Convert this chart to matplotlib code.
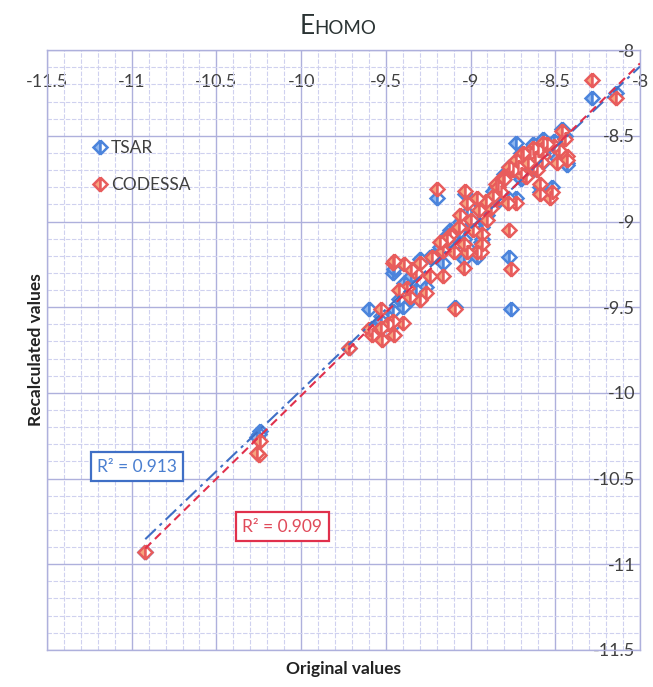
import numpy as np
import matplotlib
matplotlib.use("Agg")
import matplotlib.pyplot as plt
from matplotlib.ticker import MultipleLocator

# Original E_HOMO values and the values recalculated by each model
original = [
    -10.92, -10.24, -10.25, -10.26, -9.72, -9.60, -9.58, -9.53, -9.52, -9.53,
    -9.49, -9.46, -9.45, -9.40, -9.46, -9.45, -9.39, -9.375, -9.36, -9.32,
    -9.30, -9.30, -9.26, -9.24, -9.23, -9.20, -9.16, -9.16, -9.12, -9.10,
    -9.09, -9.07, -9.04, -9.04, -9.03, -9.02, -9.02, -9.00, -8.985, -8.96,
    -8.96, -8.94, -8.93, -8.93, -8.90, -8.88, -8.85, -8.84, -8.84, -8.82,
    -8.81, -8.80, -8.78, -8.77, -8.76, -8.77, -8.75, -8.73, -8.73, -8.72,
    -8.70, -8.69, -8.67, -8.65, -8.63, -8.63, -8.62, -8.60, -8.59, -8.59,
    -8.57, -8.57, -8.55, -8.53, -8.52, -8.49, -8.46, -8.44, -8.43, -8.43,
    -8.285, -8.14, -9.14, -9.18, -9.35, -9.42, -8.87, -8.91, -8.95, -9.06,
    -8.70, -8.66, -8.61, -8.58, -8.51, -8.48,
]
tsar = [
    -10.93, -10.22, -10.24, -10.26, -9.74, -9.51, -9.62, -9.55, -9.60, -9.58,
    -9.56, -9.52, -9.60, -9.50, -9.30, -9.28, -9.36, -9.38, -9.46, -9.40,
    -9.44, -9.22, -9.38, -9.21, -9.20, -8.86, -9.24, -9.12, -9.05, -9.14,
    -9.50, -9.06, -9.10, -9.22, -8.84, -8.95, -9.15, -8.97, -9.02, -9.21,
    -8.88, -9.12, -9.03, -9.10, -8.96, -8.90, -8.80, -8.82, -8.88, -8.85,
    -8.76, -8.72, -8.86, -8.68, -9.51, -9.21, -8.68, -8.54, -8.86, -8.66,
    -8.60, -8.62, -8.72, -8.58, -8.55, -8.70, -8.61, -8.57, -8.80, -8.83,
    -8.52, -8.60, -8.56, -8.84, -8.80, -8.63, -8.46, -8.50, -8.66, -8.67,
    -8.28, -8.25, -9.08, -9.15, -9.32, -9.45, -8.82, -8.93, -8.97, -9.00,
    -8.75, -8.64, -8.67, -8.66, -8.53, -8.55,
]
codessa = [
    -10.93, -10.28, -10.36, -10.35, -9.74, -9.63, -9.66, -9.51, -9.69, -9.62,
    -9.60, -9.58, -9.66, -9.59, -9.24, -9.23, -9.25, -9.39, -9.44, -9.30,
    -9.46, -9.24, -9.42, -9.32, -9.21, -8.81, -9.32, -9.17, -9.08, -9.18,
    -9.51, -9.03, -9.13, -9.27, -8.82, -8.89, -9.18, -8.99, -9.05, -9.18,
    -8.86, -9.18, -9.07, -9.13, -8.99, -8.92, -8.78, -8.80, -8.86, -8.83,
    -8.74, -8.75, -8.89, -8.68, -9.28, -9.05, -8.70, -8.64, -8.89, -8.68,
    -8.62, -8.60, -8.74, -8.60, -8.57, -8.68, -8.63, -8.58, -8.78, -8.84,
    -8.54, -8.62, -8.55, -8.86, -8.83, -8.66, -8.47, -8.52, -8.62, -8.64,
    -8.175, -8.28, -9.10, -9.12, -9.28, -9.40, -8.85, -8.88, -8.93, -8.96,
    -8.72, -8.66, -8.70, -8.65, -8.56, -8.58,
]
series_names = ["TSAR", "CODESSA"]
r2_labels = ["R\u00b2 = 0.913", "R\u00b2 = 0.909"]
axis_ticks = [-11.5, -11, -10.5, -10, -9.5, -9, -8.5, -8]

blue_edge, blue_face = "#4b84dc", "#8fb6ee"
red_edge, red_face = "#e85c5c", "#f6a47e"
text_col = "#404040"
grid_major = "#aeb0dc"
grid_minor = "#cfd1ef"

plt.rcParams["font.family"] = ["Lato", "DejaVu Sans"]

fig = plt.figure(figsize=(6.53, 6.87), dpi=100)
ax = fig.add_axes([0.072, 0.054, 0.908, 0.873])

x = np.array(original)
y_t = np.array(tsar)
y_c = np.array(codessa)

ax.plot(x, y_t, linestyle="none", marker="D", markersize=7.6,
        markeredgewidth=1.8, markeredgecolor=blue_edge,
        markerfacecolor=blue_face, markerfacecoloralt="white",
        fillstyle="left", label=series_names[0], zorder=3)
ax.plot(x, y_c, linestyle="none", marker="D", markersize=7.6,
        markeredgewidth=1.8, markeredgecolor=red_edge,
        markerfacecolor=red_face, markerfacecoloralt="white",
        fillstyle="left", label=series_names[1], zorder=4)

ax.set_xlim(axis_ticks[0], axis_ticks[-1])
ax.set_ylim(axis_ticks[0], axis_ticks[-1])

# linear trend lines, extended forward to the axis limit
x_end = ax.get_xlim()[1]
xs = np.array([x.min(), x_end])
kt = np.polyfit(x, y_t, 1)
kc = np.polyfit(x, y_c, 1)
ax.plot(xs, np.polyval(kt, xs), color="#3f6fc6", lw=1.5,
        linestyle=(0, (7, 2.5, 1.5, 2.5)), zorder=5)
ax.plot(xs, np.polyval(kc, xs), color="#e0304c", lw=1.5,
        linestyle=(0, (4, 2.5)), zorder=5)

# grid
ax.xaxis.set_major_locator(MultipleLocator(0.5))
ax.yaxis.set_major_locator(MultipleLocator(0.5))
ax.xaxis.set_minor_locator(MultipleLocator(0.1))
ax.yaxis.set_minor_locator(MultipleLocator(0.1))
ax.grid(which="major", color=grid_major, lw=1.0, zorder=0)
ax.grid(which="minor", color=grid_minor, lw=0.8, linestyle=(0, (4, 1.5)), zorder=0)
ax.set_axisbelow(True)
for s in ax.spines.values():
    s.set_color(grid_major)
    s.set_linewidth(1.0)

# tick labels sit inside the plot, along the top and right axes
ax.set_xticks(axis_ticks)
ax.set_yticks(axis_ticks)
ax.set_xticklabels([f"{v:g}" for v in axis_ticks])
ax.set_yticklabels([f"{v:g}" for v in axis_ticks])
ax.tick_params(axis="x", which="both", bottom=False, top=False,
               labelbottom=False, labeltop=True, pad=-32,
               labelsize=13, labelcolor=text_col)
ax.tick_params(axis="y", which="both", left=False, right=False,
               labelleft=False, labelright=True, pad=-7,
               labelsize=13, labelcolor=text_col)
for lab in ax.get_yticklabels():
    lab.set_horizontalalignment("right")

# title: E with smaller HOMO
fig.text(0.482, 0.950, "E", fontsize=19, color="#2a3333", ha="right",
         va="baseline")
fig.text(0.482, 0.950, "HOMO", fontsize=13.5, color="#2a3333", ha="left",
         va="baseline")

ax.set_xlabel("Original values", fontsize=12.5, fontweight="bold",
              color="#222222", labelpad=8)
ax.set_ylabel("Recalculated values", fontsize=12.5, fontweight="bold",
              color="#222222", labelpad=2)

leg = ax.legend(loc="upper left", bbox_to_anchor=(0.06, 0.862),
                frameon=False, fontsize=12.5, handletextpad=0.05,
                handlelength=1.2, labelspacing=1.2, borderaxespad=0)
for t in leg.get_texts():
    t.set_color(text_col)

ax.text(-10.97, -10.43, r2_labels[0], fontsize=12.5, color="#4a7fd0",
        ha="center", va="center", zorder=6,
        bbox=dict(boxstyle="square,pad=0.35", fc="white", ec="#3f6fc6", lw=1.6))
ax.text(-10.11, -10.78, r2_labels[1], fontsize=12.5, color="#e04a5a",
        ha="center", va="center", zorder=6,
        bbox=dict(boxstyle="square,pad=0.35", fc="white", ec="#e0304c", lw=1.6))

fig.savefig("out.png", dpi=100)
